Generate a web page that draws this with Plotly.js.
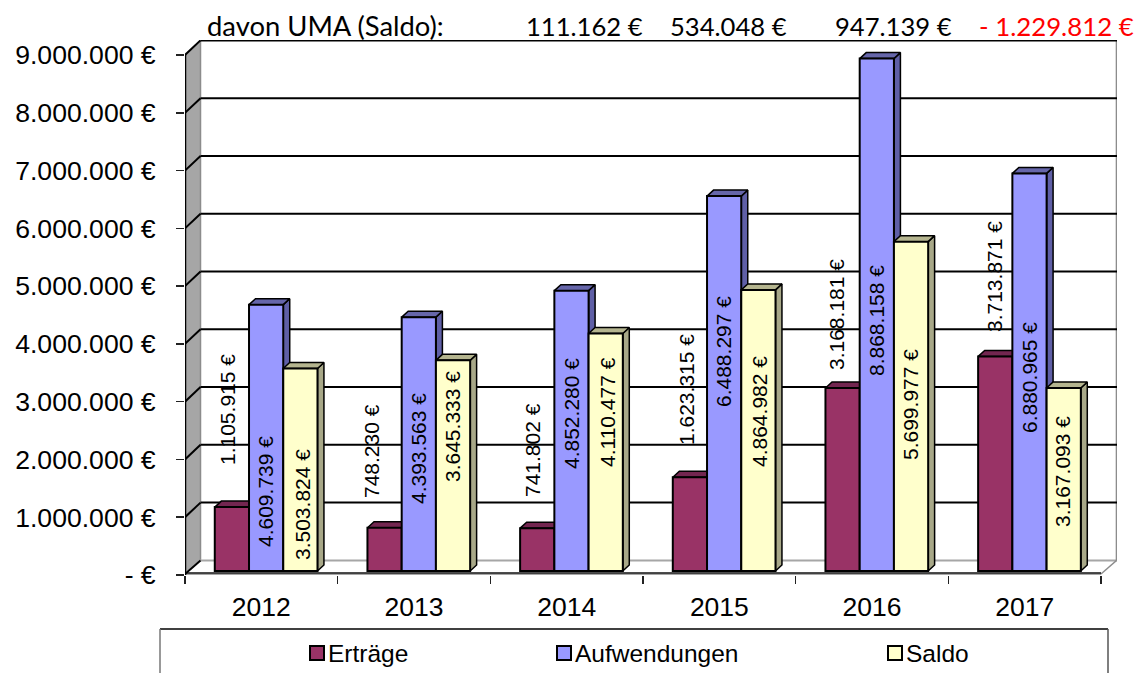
<!DOCTYPE html>
<html><head><meta charset="utf-8">
<script src="https://cdn.plot.ly/plotly-3.0.1.min.js"></script>
<style>html,body{margin:0;padding:0;background:#fff;overflow:hidden}</style>
</head><body><div id="chart" style="width:1141px;height:673px"></div>
<script>
// ---- data ----
var years = ['2012','2013','2014','2015','2016','2017'];
var ertraege = [1105915,748230,741802,1623315,3168181,3713871];
var aufwendungen = [4609739,4393563,4852280,6488297,8868158,6880965];
var saldo = [3503824,3645333,4110477,4864982,5699977,3167093];
var yTicks = [0,1000000,2000000,3000000,4000000,5000000,6000000,7000000,8000000,9000000];
var yTickText = ['- €','1.000.000 €','2.000.000 €','3.000.000 €','4.000.000 €','5.000.000 €','6.000.000 €','7.000.000 €','8.000.000 €','9.000.000 €'];
var umaLabel = 'davon UMA (Saldo):';
var umaValues = ['111.162 €','534.048 €','947.139 €','- 1.229.812 €'];

// ---- geometry ----
var W=1141,H=673,L=185,R=1117,T=40,B=575;
var pxPerCat=152.67, pxPerUnit=57.78/1e6;
var xRange=[-0.5,-0.5+(R-L)/pxPerCat], yRange=[0,(B-T)/pxPerUnit];
function X(px){return (px-L)/pxPerCat-0.5;}
function Y(py){return (B-py)/pxPerUnit;}
function dX(px){return px/pxPerCat;}
function dY(px){return px/pxPerUnit;}
var wallDX=dX(15.5), wallDY=dY(14.6);
var barOff=dX(4.8), baseY=dY(4), barW=34.2/pxPerCat, sideDX=dX(6.5), sideDY=dY(6);
var colors=['#993366','#9999FF','#FFFFCC'];
var topCol=['#732650','#6666AA','#B5B58F'], sideCol=['#732650','#5F5FA6','#A8A888'];
var series=[ertraege,aufwendungen,saldo], names=['Erträge','Aufwendungen','Saldo'];
var cats=years.map(function(_,i){return i;});

function fmt(v){return String(v).replace(/\B(?=(\d{3})+$)/g,'.')+' €';}

// walls, floor, grid (below every trace)
var shapes=[];
function line(x0,y0,x1,y1,c,w){shapes.push({type:'line',layer:'below',xref:'x',yref:'y',x0:x0,y0:y0,x1:x1,y1:y1,line:{color:c,width:w}});}
var xl=xRange[0], xr=xRange[1], xf=X(1101);
shapes.push({type:'path',layer:'below',xref:'x',yref:'y',
  path:'M'+xl+',0 L'+xl+','+yTicks[9]+' L'+(xl+wallDX)+','+(yTicks[9]+wallDY)+' L'+(xl+wallDX)+','+wallDY+' Z',
  fillcolor:'#A6A6A6',line:{width:0}});
line(xl+wallDX,wallDY,xl+wallDX,yTicks[9]+wallDY,'#8c8c8c',1.5);
line(xl+wallDX,wallDY,xr,wallDY,'#A6A6A6',2);
line(xr-0.002,wallDY,xr-0.002,yTicks[9]+wallDY,'#8c8c8c',2);
line(xr-0.002,wallDY,xf,dY(1),'#8c8c8c',1.5);
line(xl,dY(0.5),xf,dY(0.5),'#A6A6A6',2);
line(xl,dY(2),xf,dY(2),'#111',1.5);
yTicks.slice(1).forEach(function(v){
  line(xl+wallDX,v+wallDY,xr,v+wallDY,'#000',2);
  line(xl,v,xl+wallDX,v+wallDY,'#000',2);
});
line(xl,dY(1),xl+wallDX,wallDY,'#000',2);
line(xl,0,xl,yTicks[9],'#000',2.5);

// depth polygons, painted from back to front
var traces=[];
function poly(xs,ys,c){traces.push({type:'scatter',mode:'lines',x:xs,y:ys,fill:'toself',fillcolor:c,
  line:{color:'#000',width:1.5},showlegend:false,hoverinfo:'skip',xaxis:'x',yaxis:'y'});}
series.forEach(function(vals,k){
  var sx=[],sy=[],tx=[],ty=[];
  vals.forEach(function(v,i){
    var left=i+barOff+(k-1.5)*barW, right=left+barW, top=baseY+v;
    sx.push(right,right,right+sideDX,right+sideDX,right,null);
    sy.push(baseY,top,top+sideDY,baseY+sideDY,baseY,null);
    tx.push(left,right,right+sideDX,left+sideDX,left,null);
    ty.push(top,top,top+sideDY,top+sideDY,top,null);
  });
  poly(sx,sy,sideCol[k]);
  poly(tx,ty,topCol[k]);
});
// front faces: real bars on the overlaying subplot
series.forEach(function(vals,k){
  traces.push({type:'bar',name:names[k],x:cats.map(function(i){return i+barOff;}),y:vals,
    base:vals.map(function(){return baseY;}),
    marker:{color:colors[k],line:{color:'#000',width:2}},
    xaxis:'x2',yaxis:'y2',legend:k===0?'legend':('legend'+(k+1)),hoverinfo:'skip'});
});

// data labels
var labelX=[[227,371,532,686,836,994],[265,418,571,723,876,1029],[302,452,607,759,910,1062]];
var labelY=[[410,451,450,390,315,277],[492,449,414,352,321,378],[505,427,412,412,405,472]];
var ann=[];
series.forEach(function(vals,k){vals.forEach(function(v,i){
  ann.push({xref:'x',yref:'y',x:X(labelX[k][i]),y:Y(labelY[k][i]),text:fmt(v),textangle:-90,showarrow:false,
    font:{family:'Liberation Sans',size:21,color:'#000'},xanchor:'center',yanchor:'middle'});
});});
// header row
function head(t,xp,c,s){ann.push({xref:'paper',yref:'paper',x:(xp-L)/(R-L),y:(B-26)/(B-T),text:t,showarrow:false,
  xanchor:'left',yanchor:'middle',font:{family:'Lato',size:s,color:c}});}
head(umaLabel,205,'#000',27.4);
head(umaValues[0],524,'#000',25.6);head(umaValues[1],668,'#000',25.6);head(umaValues[2],833,'#000',25.6);head(umaValues[3],977,'#FF0000',25.8);

// legend box (runs past the page edge)
function px(c){return (c-L)/(R-L);} function py(c){return (B-c)/(B-T);}
shapes.push({type:'line',xref:'paper',yref:'paper',x0:px(160),x1:px(1108),y0:py(629),y1:py(629),line:{color:'#000',width:1.5}});
shapes.push({type:'line',xref:'paper',yref:'paper',x0:px(160),x1:px(160),y0:py(629),y1:py(680),line:{color:'#777',width:1.5}});
shapes.push({type:'line',xref:'paper',yref:'paper',x0:px(1108),x1:px(1108),y0:py(629),y1:py(680),line:{color:'#555',width:1.5}});

function leg(textLeft){return {orientation:'h',x:px(textLeft-40),y:py(653),xanchor:'left',yanchor:'middle',
  bgcolor:'rgba(0,0,0,0)',borderwidth:0,font:{family:'Liberation Sans',size:24.5,color:'#000'}};}

var layout={width:W,height:H,autosize:false,paper_bgcolor:'#fff',plot_bgcolor:'#fff',
  margin:{l:L,r:W-R,t:T,b:H-B,pad:0,autoexpand:false},barmode:'group',bargap:0.3273,bargroupgap:0,
  showlegend:true,legend:leg(328),legend2:leg(575),legend3:leg(906),
  xaxis:{type:'linear',range:xRange,tickmode:'array',tickvals:[-0.5,0.5,1.5,2.5,3.5,4.5,5.5],ticktext:['','','','','','',''],
    ticks:'outside',ticklen:8,tickwidth:1.5,tickcolor:'#222',showgrid:false,zeroline:false,showline:false,fixedrange:true},
  xaxis2:{type:'linear',overlaying:'x',anchor:'y2',side:'bottom',range:xRange,tickmode:'array',tickvals:cats,ticktext:years,
    ticks:'',ticklabelstandoff:13,tickfont:{family:'Liberation Sans',size:26.5,color:'#000'},showgrid:false,zeroline:false,showline:false,fixedrange:true},
  yaxis:{type:'linear',range:yRange,tickmode:'array',tickvals:yTicks,ticktext:yTickText,ticks:'outside',ticklen:8,tickwidth:1.5,tickcolor:'#222',
    ticklabelstandoff:15,tickfont:{family:'Liberation Sans',size:26.6,color:'#000'},showgrid:false,zeroline:false,showline:false,fixedrange:true},
  yaxis2:{type:'linear',overlaying:'y',anchor:'x2',range:yRange,visible:false,fixedrange:true},
  shapes:shapes,annotations:ann};

Plotly.newPlot('chart',traces,layout,{displayModeBar:false,staticPlot:true}).then(function(){
  // tighten the legend swatches next to their text
  document.querySelectorAll('.legendpoints path').forEach(function(p){
    p.setAttribute('d','M7,7H-7V-7H7Z');
    p.setAttribute('transform','translate(29,0)');
  });
});
</script></body></html>
